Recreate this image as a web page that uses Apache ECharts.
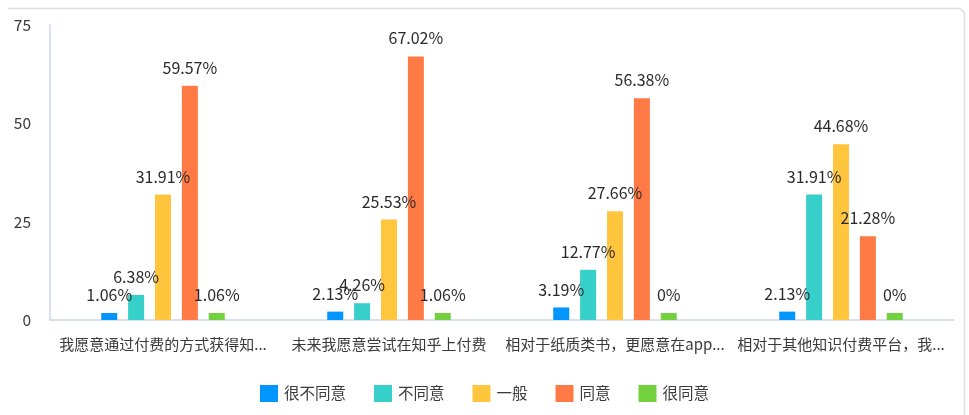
<!DOCTYPE html>
<html>
<head>
<meta charset="utf-8">
<script src="https://cdn.jsdelivr.net/npm/echarts@6/dist/echarts.min.js"></script>
<style>
html,body{margin:0;padding:0;background:#fff;}
#chart{width:969px;height:415px;}
</style>
</head>
<body>
<div id="chart"></div>
<script>
const categories = ['我愿意通过付费的方式获得知...', '未来我愿意尝试在知乎上付费', '相对于纸质类书，更愿意在app...', '相对于其他知识付费平台，我...'];
const seriesNames = ['很不同意', '不同意', '一般', '同意', '很同意'];
const veryDisagree = [1.06, 2.13, 3.19, 2.13];
const disagree = [6.38, 4.26, 12.77, 31.91];
const neutral = [31.91, 25.53, 27.66, 44.68];
const agree = [59.57, 67.02, 56.38, 21.28];
const veryAgree = [1.06, 1.06, 0, 0];
const yTicks = {min: 0, max: 75, interval: 25};
const colors = ['#0095FF', '#36CFC9', '#FFC53D', '#FF7A45', '#73D13D'];

const seriesData = [veryDisagree, disagree, neutral, agree, veryAgree];
const FONT = '"Microsoft YaHei","Noto Sans CJK SC",sans-serif';

const chart = echarts.init(document.getElementById('chart'), null, {renderer: 'canvas'});
chart.setOption({
  animation: false,
  color: colors,
  textStyle: {fontFamily: FONT},
  graphic: [{
    type: 'polyline',
    shape: {points: [[8, 8.5], [960, 8.5], [964.5, 13], [964.5, 415]]},
    style: {stroke: '#dedede', lineWidth: 1.5, fill: null},
    silent: true
  }],
  legend: {
    data: seriesNames,
    left: 'center',
    top: 380,
    itemWidth: 18,
    itemHeight: 17,
    itemGap: 28,
    icon: 'rect',
    textStyle: {fontSize: 15.5, color: '#3a3a3a', fontFamily: FONT, padding: [0, 0, 0, 1]}
  },
  grid: {left: 50, right: 15, top: 25, bottom: 95, containLabel: false},
  xAxis: {
    type: 'category',
    data: categories,
    axisLine: {lineStyle: {color: '#ccd6eb', width: 1.5}},
    axisTick: {length: 13, lineStyle: {color: '#ccd6eb', width: 1.5}},
    axisLabel: {fontSize: 15, color: '#3a3a3a', margin: 17, interval: 0, fontFamily: FONT}
  },
  yAxis: {
    type: 'value',
    min: yTicks.min,
    max: yTicks.max,
    interval: yTicks.interval,
    axisLine: {show: true, lineStyle: {color: '#ccd6eb', width: 1.5}},
    axisTick: {show: false},
    splitLine: {show: false},
    axisLabel: {fontSize: 15.5, color: '#3a3a3a', margin: 19, fontFamily: FONT}
  },
  series: seriesNames.map((name, i) => ({
    name: name,
    type: 'bar',
    data: seriesData[i],
    barWidth: 16,
    barGap: '68%',
    barMinHeight: 7,
    label: {
      show: true,
      position: 'top',
      distance: 10,
      fontSize: 16,
      color: '#2a2a2a',
      fontFamily: FONT,
      formatter: p => p.value + '%'
    }
  }))
});
</script>
</body>
</html>
